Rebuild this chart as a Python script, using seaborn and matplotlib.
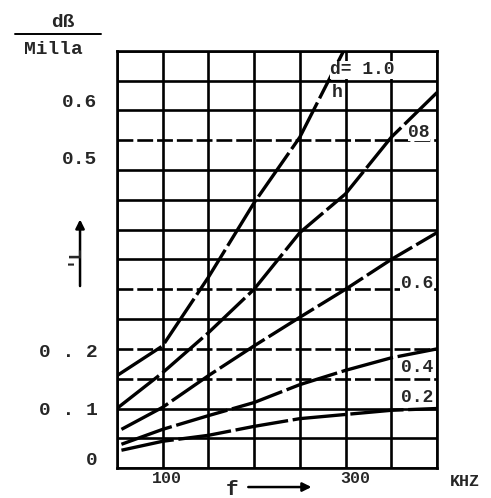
import matplotlib
matplotlib.use('Agg')
import numpy as np
import pandas as pd
import seaborn as sns
import matplotlib.pyplot as plt
import matplotlib.transforms as mtransforms

# values (attenuation dB/mile vs frequency kHz)
freq_10 = [50, 100, 150, 200, 250, 298]
att_10  = [0.155, 0.205, 0.32, 0.445, 0.555, 0.70]
freq_08 = [50, 100, 150, 200, 250, 300, 350, 400]
att_08  = [0.10, 0.16, 0.227, 0.30, 0.395, 0.46, 0.555, 0.63]
freq_06 = [55, 100, 150, 200, 250, 300, 350, 400]
att_06  = [0.065, 0.102, 0.155, 0.205, 0.253, 0.30, 0.35, 0.395]
freq_04 = [55, 100, 150, 200, 250, 300, 350, 400]
att_04  = [0.04, 0.065, 0.088, 0.11, 0.14, 0.164, 0.185, 0.20]
freq_02 = [55, 100, 150, 200, 250, 300, 350, 400]
att_02  = [0.03, 0.045, 0.055, 0.07, 0.083, 0.09, 0.097, 0.10]
ratios  = ['1.0', '0.8', '0.6', '0.4', '0.2']

x_grid = [50, 100, 150, 200, 250, 300, 350, 400]
y_grid = [0.0, 0.05, 0.1, 0.15, 0.2, 0.25, 0.3, 0.35, 0.4, 0.45, 0.5, 0.55, 0.6, 0.65, 0.7]
y_dashed = [0.55, 0.3, 0.2, 0.15]
y_ticks = [0.0, 0.1, 0.2, 0.5, 0.6]
y_ticklabels = ['0', '0 . 1', '0 . 2', '0.5', '0.6']
x_ticks = [100, 300]
x_ticklabels = ['100', '300']

################################################
frames = []
for r, f, a in zip(ratios, [freq_10, freq_08, freq_06, freq_04, freq_02],
                   [att_10, att_08, att_06, att_04, att_02]):
  frames.append(pd.DataFrame({'f': f, 'att': a, 'dh': r}))
data = pd.concat(frames, ignore_index=True)

sns.set_style('white')
plt.rcParams['font.family'] = ['Liberation Mono', 'DejaVu Sans Mono']
plt.rcParams['font.weight'] = 'bold'

fig = plt.figure(figsize=(4.91, 4.98), dpi=100)
ax = fig.add_axes([0.238, 0.060, 0.652, 0.838])

# hand drawn grid
for yv in y_grid:
  ls = (0, (6, 1.5)) if yv in y_dashed else '-'
  ax.axhline(yv, color='black', lw=1.9, ls=ls, zorder=1)
for xv in x_grid:
  ax.axvline(xv, color='black', lw=1.9, zorder=1)

sns.lineplot(data=data, x='f', y='att', hue='dh', style='dh',
             palette=['black'] * 5, dashes=[(16, 1.4)] * 5,
             lw=2.4, legend=False, ax=ax, zorder=3, sort=False)

ax.set_xlim(50, 400)
ax.set_ylim(0, 0.7)
for s in ax.spines.values():
  s.set_linewidth(1.9)
  s.set_color('black')

ax.set_xticks(x_ticks)
ax.set_xticklabels(x_ticklabels, fontsize=12)
ax.set_yticks(y_ticks)
ax.set_yticklabels(y_ticklabels, fontsize=14)
ax.tick_params(length=0, pad=14)
ax.tick_params(axis='x', pad=2)
ax.set_xlabel('')
ax.set_ylabel('')

# typewritten labels sit a bit above their grid lines
shifts = [10, 0, -2, 13, 10]
for lab, dy in zip(ax.get_yticklabels(), shifts):
  lab.set_transform(lab.get_transform() +
                    mtransforms.ScaledTranslation(0, dy / 100., fig.dpi_scale_trans))
for lab, dx in zip(ax.get_xticklabels(), [4, 10]):
  lab.set_transform(lab.get_transform() +
                    mtransforms.ScaledTranslation(dx / 100., 0, fig.dpi_scale_trans))

# curve labels
box = dict(facecolor='white', edgecolor='none', pad=0.3)
ax.text(283, 0.668, 'd= 1.0', fontsize=13, va='center', ha='left', bbox=box, zorder=4)
ax.text(285, 0.630, 'h', fontsize=13, va='center', ha='left', bbox=box, zorder=4)
ax.plot([284, 302], [0.650, 0.650], color='black', lw=1.6, zorder=5)
ax.text(380, 0.563, '08', fontsize=13, va='center', ha='center', bbox=box, zorder=4)
ax.text(378, 0.310, '0.6', fontsize=13, va='center', ha='center', bbox=box, zorder=4)
ax.text(378, 0.168, '0.4', fontsize=13, va='center', ha='center', bbox=box, zorder=4)
ax.text(378, 0.119, '0.2', fontsize=13, va='center', ha='center', bbox=box, zorder=4)

# y axis heading and arrows
fig.text(0.128, 0.955, 'dß', fontsize=14, ha='center', va='center')
fig.add_artist(plt.Line2D([0.03, 0.205], [0.932, 0.932], color='black', lw=1.4))
fig.text(0.108, 0.900, 'Milla', fontsize=14, ha='center', va='center')
fig.text(0.148, 0.490, "'L", fontsize=13, ha='center', va='center', rotation=90)
ax.annotate('', xy=(0.163, 0.565), xytext=(0.163, 0.420), xycoords='figure fraction',
            arrowprops=dict(arrowstyle='-|>', color='black', lw=1.8, mutation_scale=13))

fig.text(0.472, 0.018, 'f', fontsize=15, ha='center', va='center')
ax.annotate('', xy=(0.640, 0.022), xytext=(0.500, 0.022), xycoords='figure fraction',
            arrowprops=dict(arrowstyle='-|>', color='black', lw=1.8, mutation_scale=13))
fig.text(0.947, 0.033, 'KHZ', fontsize=12, ha='center', va='center')

plt.savefig('out.png', dpi=100, facecolor='white')
